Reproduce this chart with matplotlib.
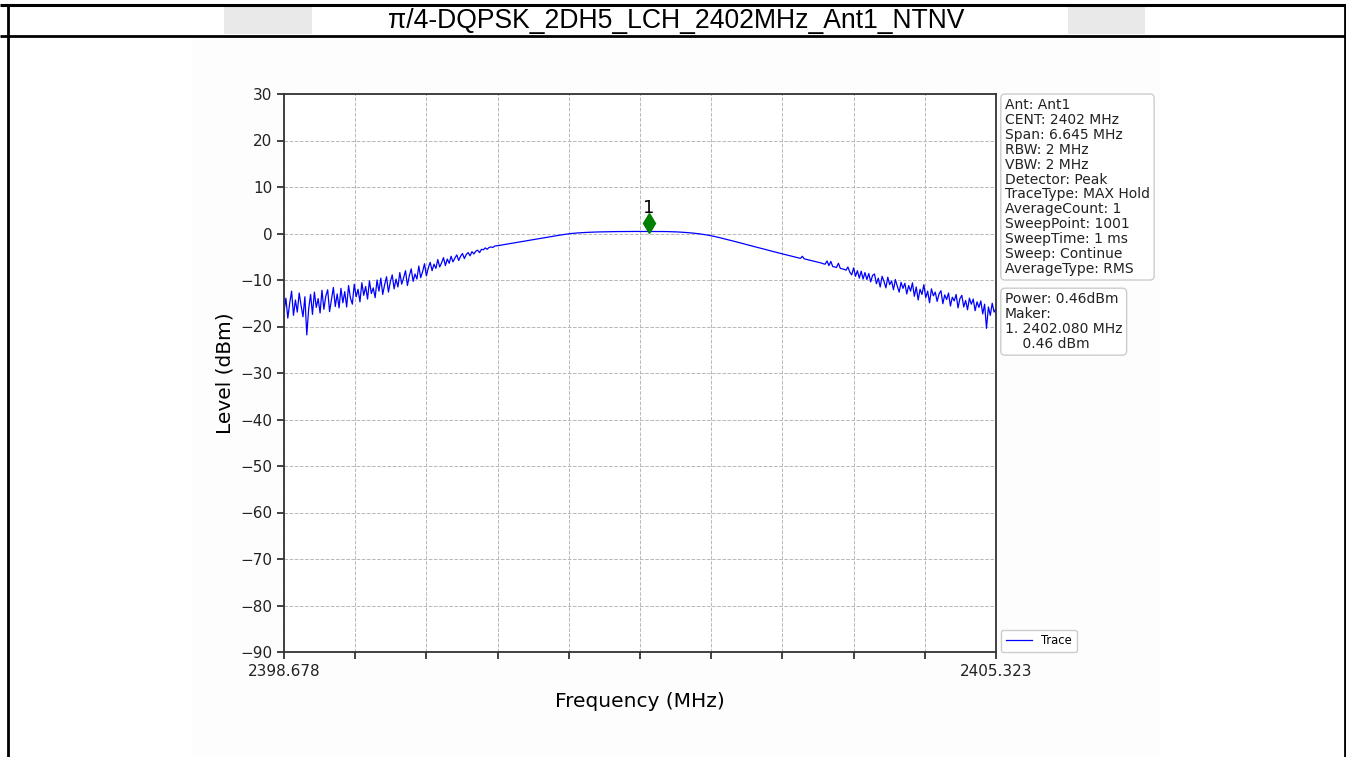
import numpy as np
import matplotlib
matplotlib.use("Agg")
import matplotlib.pyplot as plt
from matplotlib.patches import Rectangle
from matplotlib.transforms import offset_copy

# ---- data -------------------------------------------------------------
title = "π/4-DQPSK_2DH5_LCH_2402MHz_Ant1_NTNV"
f_start = 2398.678
f_stop = 2405.323
y_ticks = list(range(-90, 31, 10))

levels = [
    # left skirt (noisy)
    -16.8, -13.9, -18.2, -15.0, -12.4, -17.6, -14.3, -16.9, -12.8, -15.5,
    -17.9, -13.6, -21.8, -16.2, -13.1, -17.4, -12.6, -15.9, -14.0, -17.1,
    -12.2, -16.3, -13.5, -12.1, -16.8, -14.2, -11.6, -15.7, -13.0, -16.0,
    -11.8, -14.9, -12.5, -15.8, -11.2, -13.9, -15.2, -10.9, -13.6, -12.0,
    -14.7, -10.6, -13.3, -11.4, -14.1, -10.2, -12.9, -11.7, -13.8, -10.0,
    -12.4, -9.6, -13.1, -11.0, -9.3, -12.6, -10.4, -8.9, -11.9, -9.8,
    -11.5, -8.4, -10.9, -9.5, -8.0, -11.2, -9.1, -7.6, -10.3, -8.7,
    -9.8, -7.0, -9.5, -8.2, -6.5, -9.1, -7.4, -6.2, -8.0, -6.6,
    -7.5, -5.6, -7.2, -6.3, -5.2, -6.9, -5.5, -6.4, -4.9, -6.1,
    -5.3, -4.6, -5.8, -4.9, -4.3, -5.4, -4.5, -4.1, -4.8, -3.9,
    -4.4, -3.8, -3.6, -4.1, -3.4, -3.5, -3.1, -3.4, -3.0, -2.9,
    -3.0, -2.7, -2.65, -2.6,
    # main lobe
    -2.52, -2.45, -2.38, -2.31, -2.24, -2.17, -2.10, -2.03, -1.96, -1.89,
    -1.82, -1.75, -1.68, -1.61, -1.54, -1.47, -1.40, -1.33, -1.26, -1.19,
    -1.12, -1.05, -0.98, -0.91, -0.84, -0.77, -0.70, -0.63, -0.56, -0.49,
    -0.42, -0.36, -0.30, -0.24, -0.18, -0.12, -0.06,
    -0.01, 0.03, 0.07, 0.10, 0.13, 0.16, 0.19, 0.21, 0.23, 0.25,
    0.27, 0.29, 0.30, 0.32, 0.33, 0.34, 0.35, 0.36, 0.37, 0.38,
    0.39, 0.39, 0.40, 0.40, 0.41, 0.41, 0.42, 0.42, 0.42, 0.43,
    0.43, 0.43, 0.44, 0.44, 0.44, 0.44, 0.45, 0.45, 0.45, 0.45,
    0.45,
    0.46,
    0.45, 0.45, 0.45, 0.44, 0.44, 0.44, 0.43, 0.43, 0.42, 0.41,
    0.40, 0.39, 0.38, 0.36, 0.34, 0.32, 0.30, 0.27, 0.24, 0.21,
    0.18, 0.14, 0.10, 0.06, 0.02, -0.03, -0.08, -0.14, -0.20, -0.26,
    -0.33, -0.40, -0.48,
    -0.57, -0.66, -0.75, -0.85, -0.95, -1.05, -1.15, -1.25, -1.35, -1.46,
    -1.56, -1.67, -1.77, -1.88, -1.99, -2.10, -2.20, -2.31, -2.42, -2.53,
    -2.63, -2.74, -2.85, -2.95, -3.06, -3.17, -3.27, -3.38, -3.49, -3.59,
    -3.70, -3.81, -3.91, -4.02, -4.13, -4.23, -4.34,
    -4.45, -4.55, -4.65, -4.75, -4.85, -4.95, -5.05, -5.15, -5.25, -5.35,
    -4.9, -5.45, -5.55, -5.65, -5.75, -5.85, -5.95, -6.05, -6.15, -6.25,
    -6.35, -6.5, -6.6,
    # right skirt (noisy)
    -5.9, -6.9, -6.0, -7.1, -7.2, -7.3, -6.4, -7.5, -7.6, -7.7,
    -7.9, -7.2, -8.3, -8.9, -7.4, -9.2, -8.0, -9.6, -8.1, -9.8,
    -8.4, -9.9, -8.6, -10.4, -9.0, -8.7, -10.8, -9.6, -11.5, -9.2,
    -10.3, -11.7, -9.4, -11.0, -10.2, -12.1, -9.9, -11.3, -12.6, -10.5,
    -11.8, -10.7, -13.0, -11.2, -12.4, -10.6, -13.5, -11.5, -14.3, -12.0,
    -13.1, -11.0, -13.8, -12.4, -14.9, -11.9, -13.4, -12.6, -14.6, -13.0,
    -12.3, -15.1, -13.2, -14.2, -12.8, -15.6, -13.7, -14.5, -13.1, -16.0,
    -14.0, -13.3, -15.8, -14.4, -16.4, -13.9, -15.2, -14.1, -16.6, -14.7,
    -15.9, -14.5, -17.3, -15.2, -20.4, -15.8, -17.6, -15.0, -16.9, -16.2,
]

marker_freq = 2402.080
marker_level = 0.46

settings = [
    "Ant: Ant1",
    "CENT: 2402 MHz",
    "Span: 6.645 MHz",
    "RBW: 2 MHz",
    "VBW: 2 MHz",
    "Detector: Peak",
    "TraceType: MAX Hold",
    "AverageCount: 1",
    "SweepPoint: 1001",
    "SweepTime: 1 ms",
    "Sweep: Continue",
    "AverageType: RMS",
]
results = [
    "Power: 0.46dBm",
    "Maker:",
    "1. 2402.080 MHz",
    "    0.46 dBm",
]

# ---- figure -----------------------------------------------------------
W, H = 1346, 757
fig = plt.figure(figsize=(W / 100, H / 100), dpi=100)
fig.patch.set_facecolor("white")

# page frame drawn in pixel coordinates
bg = fig.add_axes([0, 0, 1, 1], zorder=-5)
bg.set_xlim(0, W)
bg.set_ylim(H, 0)
bg.axis("off")
bg.add_patch(Rectangle((192, 36.5), 968, H - 36.5, fc="#fdfdfd", ec="none"))
bg.add_patch(Rectangle((224, 5), 88, 29, fc="#e9e9e9", ec="none"))
bg.add_patch(Rectangle((1068, 5), 77, 29, fc="#e9e9e9", ec="none"))
bg.plot([0, W], [4.5, 4.5], color="black", lw=2.2, solid_capstyle="butt")
bg.plot([0, W], [35.5, 35.5], color="black", lw=2.0, solid_capstyle="butt")
bg.plot([7.5, 7.5], [4.5, H], color="black", lw=2.0, solid_capstyle="butt")
bg.plot([1344.5, 1344.5], [4.5, H], color="black", lw=2.0, solid_capstyle="butt")
bg.text(676, 20.5, title, ha="center", va="center", fontsize=19.1,
        family="Liberation Sans", color="black")

# spectrum axes
ax_l, ax_r, ax_t, ax_b = 284, 996, 94, 652
ax = fig.add_axes([ax_l / W, 1 - ax_b / H, (ax_r - ax_l) / W, (ax_b - ax_t) / H])
ax.set_facecolor("white")

freqs = np.linspace(f_start, f_stop, len(levels))
ax.plot(freqs, levels, color="blue", lw=0.9, label="Trace")

mk_tr = offset_copy(ax.transData, fig=fig, x=0, y=6, units="points")
ax.plot([marker_freq], [marker_level], marker="d", color="green",
        markersize=10, transform=mk_tr, zorder=5)
lbl_tr = offset_copy(ax.transData, fig=fig, x=0, y=10, units="points")
ax.text(marker_freq, marker_level, "1", transform=lbl_tr, ha="center",
        va="bottom", fontsize=13)

ax.set_xlim(f_start, f_stop)
ax.set_ylim(-90, 30)
xt = np.linspace(f_start, f_stop, 11)
ax.set_xticks(xt)
ax.set_xticklabels([f"{f_start:.3f}"] + [""] * 9 + [f"{f_stop:.3f}"])
ax.set_yticks(y_ticks)
ax.tick_params(labelsize=11, colors="#222222", width=1.2, length=5)
ax.grid(True, linestyle="--", color="#b8b8b8", lw=0.7)
for sp in ax.spines.values():
    sp.set_color("#333333")
    sp.set_linewidth(1.3)

ax.set_xlabel("Frequency (MHz)", fontsize=14.5, labelpad=9.5)
ax.set_ylabel("Level (dBm)", fontsize=14.5, labelpad=4)

box = dict(boxstyle="round,pad=0.3", fc="white", ec="#cccccc", lw=1.0)
ax.text(1.0126, 0.9925, "\n".join(settings), transform=ax.transAxes,
        ha="left", va="top", fontsize=10, color="#222222", bbox=box,
        linespacing=1.08)
ax.text(1.0126, 0.6445, "\n".join(results), transform=ax.transAxes,
        ha="left", va="top", fontsize=10, color="#222222", bbox=box,
        linespacing=1.08)

ax.legend(loc="lower left", bbox_to_anchor=(1.007, 0.0), borderaxespad=0,
          fontsize=8.3, handlelength=2.3, framealpha=1, edgecolor="#cccccc")

fig.savefig("out.png", dpi=100)
